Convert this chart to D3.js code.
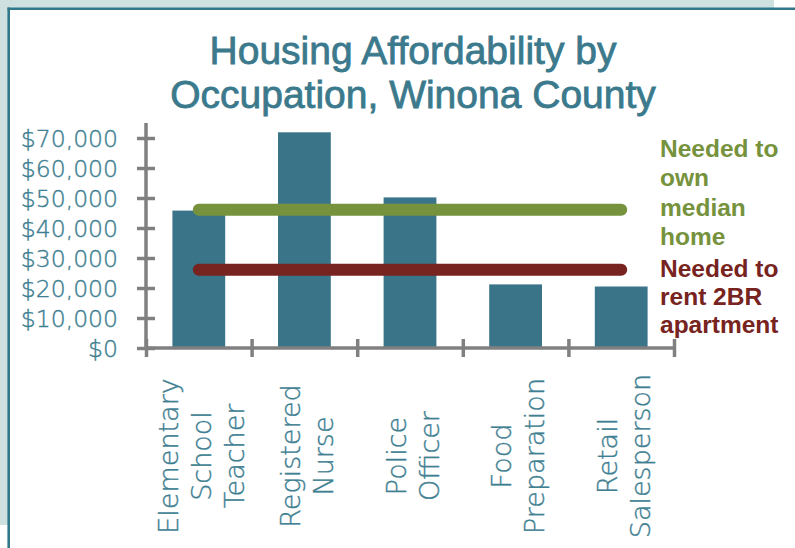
<!DOCTYPE html>
<html>
<head>
<meta charset="utf-8">
<script src="https://cdn.jsdelivr.net/npm/d3@7"></script>
<style>
  body { margin: 0; background: #ffffff; }
  svg { display: block; }
</style>
</head>
<body>
<div id="chart"></div>
<script>

// Données
const occupations = ["Elementary School Teacher", "Registered Nurse", "Police Officer", "Food Preparation", "Retail Salesperson"];
const occupationLines = [
    ["Elementary", "School", "Teacher"],
    ["Registered", "Nurse"],
    ["Police", "Officer"],
    ["Food", "Preparation"],
    ["Retail", "Salesperson"]
];
const wages = [45800, 71900, 50200, 21200, 20500];
const neededOwn = 46100;
const neededRent = 26100;
const yTicks = [0, 10000, 20000, 30000, 40000, 50000, 60000, 70000];
const titleLines = ["Housing Affordability by", "Occupation, Winona County"];
const legendOwn = ["Needed to", "own", "median", "home"];
const legendRent = ["Needed to", "rent 2BR", "apartment"];

// Canevas
const width = 795;
const height = 548;

const colBar = "#3a7489";
const colTitle = "#3b798c";
const colLabel = "#3f7f92";
const colOwn = "#76923c";
const colRent = "#772320";
const colAxis = "#808080";
const colFrame = "#cfe0e0";
const colBorder = "#31788a";

const plotLeft = 146;
const plotRight = 674;
const plotBottom = 348;
const plotTop = 123;

const svg = d3.select("#chart")
    .append("svg")
    .attr("width", width)
    .attr("height", height);

// Cadre de la diapositive
svg.append("rect").attr("x", 0).attr("y", 0).attr("width", 774).attr("height", 8).attr("fill", colFrame);
svg.append("rect").attr("x", 0).attr("y", 0).attr("width", 8).attr("height", 525).attr("fill", colFrame);
svg.append("line").attr("x1", 7.5).attr("x2", width).attr("y1", 8.7).attr("y2", 8.7)
    .attr("stroke", colBorder).attr("stroke-width", 2.6);
svg.append("line").attr("x1", 8.7).attr("x2", 8.7).attr("y1", 7.5).attr("y2", height)
    .attr("stroke", colBorder).attr("stroke-width", 2.6);

// Titre
svg.append("g")
    .selectAll("text")
    .data(titleLines)
    .join("text")
    .attr("x", 413)
    .attr("y", (d, i) => 64 + i * 44)
    .attr("text-anchor", "middle")
    .attr("font-family", "'Liberation Sans', Arial, sans-serif")
    .attr("font-size", "39px")
    .attr("fill", colTitle)
    .attr("stroke", colTitle)
    .attr("stroke-width", 0.8)
    .text(d => d);

// Échelles
const scaleY = d3.scaleLinear()
    .domain([0, 75000])
    .range([plotBottom, plotTop]);

const scaleX = d3.scaleBand()
    .domain(occupations)
    .range([plotLeft, plotRight])
    .paddingInner(0.5)
    .paddingOuter(0.25);

const scaleEdge = d3.scaleLinear()
    .domain([0, occupations.length])
    .range([plotLeft, plotRight]);

// Barres
svg.append("g")
    .selectAll("rect")
    .data(wages)
    .join("rect")
    .attr("x", (d, i) => scaleX(occupations[i]))
    .attr("y", d => scaleY(d))
    .attr("width", scaleX.bandwidth())
    .attr("height", d => scaleY(0) - scaleY(d))
    .attr("fill", colBar);

// Lignes de seuil
const center = name => scaleX(name) + scaleX.bandwidth() / 2;
const thresholds = [
    { value: neededOwn, col: colOwn },
    { value: neededRent, col: colRent }
];
const line = d3.line().x(d => d[0]).y(d => d[1]);

svg.append("g")
    .selectAll("path")
    .data(thresholds)
    .join("path")
    .attr("d", d => line([
        [center(occupations[0]), scaleY(d.value)],
        [center(occupations[occupations.length - 1]), scaleY(d.value)]
    ]))
    .attr("stroke", d => d.col)
    .attr("stroke-width", 12)
    .attr("stroke-linecap", "round")
    .attr("fill", "none");

// Axes
const yAxis = g => g
    .attr("transform", `translate(${plotLeft}, 0)`)
    .call(d3.axisLeft(scaleY).tickValues(yTicks).tickSize(0).tickFormat(d3.format("$,")))
    .call(g => g.select(".domain").remove())
    .call(g => g.append("line")
        .attr("y1", plotTop).attr("y2", plotBottom)
        .attr("stroke", colAxis).attr("stroke-width", 3.5))
    .call(g => g.selectAll(".tick line")
        .attr("x1", -9).attr("x2", 9)
        .attr("stroke", colAxis).attr("stroke-width", 3.5))
    .call(g => g.selectAll(".tick text")
        .attr("x", -28)
        .attr("dy", "0.36em")
        .attr("font-family", "'DejaVu Sans', sans-serif")
        .attr("font-weight", 200)
        .attr("font-size", "23.5px")
        .attr("fill", colLabel)
        .attr("stroke", colLabel)
        .attr("stroke-width", 0.4));

const xAxis = g => g
    .attr("transform", `translate(0, ${plotBottom})`)
    .call(d3.axisBottom(scaleEdge).tickValues(d3.range(0, occupations.length + 1)).tickSize(0).tickFormat(""))
    .call(g => g.select(".domain").remove())
    .call(g => g.append("line")
        .attr("x1", plotLeft).attr("x2", plotRight)
        .attr("stroke", colAxis).attr("stroke-width", 3.5))
    .call(g => g.selectAll(".tick line")
        .attr("y1", -9).attr("y2", 9)
        .attr("stroke", colAxis).attr("stroke-width", 3.5));

svg.append("g").call(xAxis);
svg.append("g").call(yAxis);

// Étiquettes des catégories (verticales)
const catLabels = svg.append("g")
    .selectAll("g")
    .data(occupations)
    .join("g")
    .attr("transform", d => `translate(${center(d) + 2.5}, 456) rotate(-90)`);

catLabels.selectAll("text")
    .data((d, i) => occupationLines[i].map((t, j, arr) => ({ t: t, j: j, n: arr.length })))
    .join("text")
    .attr("x", 0)
    .attr("y", d => (d.j - (d.n - 1) / 2) * 33)
    .attr("dy", "0.36em")
    .attr("text-anchor", "middle")
    .attr("font-family", "'DejaVu Sans', sans-serif")
    .attr("font-weight", 200)
    .attr("font-size", "27px")
    .attr("fill", colLabel)
    .attr("stroke", colLabel)
    .attr("stroke-width", 0.4)
    .text(d => d.t);

// Légende
const legendGroups = [
    { lines: legendOwn, col: colOwn, y0: 157, step: 29.3 },
    { lines: legendRent, col: colRent, y0: 276.5, step: 28.4 }
];

legendGroups.forEach(grp => {
    svg.append("g")
        .selectAll("text")
        .data(grp.lines)
        .join("text")
        .attr("x", 660)
        .attr("y", (d, i) => grp.y0 + i * grp.step)
        .attr("font-family", "'Liberation Sans', Arial, sans-serif")
        .attr("font-weight", "bold")
        .attr("font-size", "24.5px")
        .attr("fill", grp.col)
        .text(d => d);
});

</script>
</body>
</html>
